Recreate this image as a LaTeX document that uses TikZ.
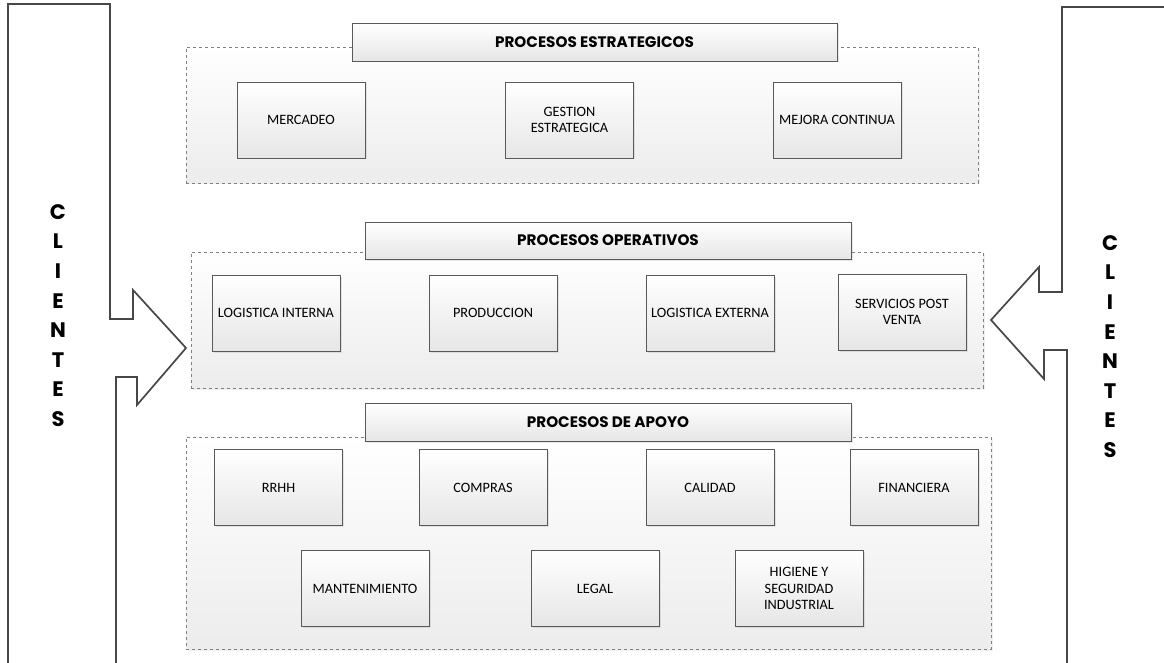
\documentclass[tikz,border=0pt]{standalone}
\usepackage{fontspec}
\setmainfont{Carlito}
\newfontfamily\PRcabecera{Poppins}
\usetikzlibrary{shadows}
\definecolor{PRborde}{HTML}{595959}
\definecolor{PRfondo}{HTML}{E6E6E6}
\colorlet{PRtrazo}{PRborde!80!black}

\begin{document}
\begin{tikzpicture}[x=1pt,y=-1pt,font=\fontsize{14.3}{16.5}\selectfont,
 PRcaja/.style={draw=PRborde,thick,top color=white,bottom color=PRfondo,minimum width=128pt,minimum height=76pt,
  align=center,inner sep=2pt,drop shadow={shadow xshift=1.5pt,shadow yshift=-1.5pt,opacity=.18}},
 PRgrupo/.style={draw=gray,dashed,top color=white,bottom color=PRfondo!75,inner sep=0pt,
  drop shadow={shadow xshift=1.5pt,shadow yshift=-1.5pt,opacity=.12}},
 PRtitulo/.style={PRcaja,minimum width=486pt,minimum height=38pt,font=\PRcabecera\bfseries\fontsize{15.2}{17}\selectfont},
 PRletra/.style={font=\PRcabecera\bfseries\fontsize{21}{23}\selectfont,inner sep=0pt},
 PRflecha/.style={draw=PRtrazo,line width=1.7pt,line join=miter}]
\useasboundingbox (0,0) rectangle (1164,663);
\draw[PRflecha] (8,663)--(8,4)--(110,4)--(110,319)--(133,319)--(133,290)--(186,348)--(137,405)--(137,377)--(116,377)--(116,663);
\draw[PRflecha] (1164,7)--(1062,7)--(1062,292)--(1039,292)--(1039,267)--(991,320)--(1044,379)--(1044,350)--(1067,350)--(1067,663);
\foreach \l [count=\i] in {C,L,I,E,N,T,E,S}{
 \node[PRletra] (clizq\i) at (58,{212+29.6*(\i-1)}) {\l};
 \node[PRletra] (clder\i) at (1110,{243+29.6*(\i-1)}) {\l};}
\node[PRgrupo,minimum width=792pt,minimum height=136pt] (estrategicos) at (582,115) {};
\node[PRgrupo,minimum width=792pt,minimum height=136pt] (operativos) at (587,320) {};
\node[PRgrupo,minimum width=805pt,minimum height=212pt] (apoyo) at (588.5,543) {};
\node[PRtitulo,minimum width=485pt] (testrategicos) at (594.5,42) {PROCESOS ESTRATEGICOS};
\node[PRtitulo,minimum height=37pt] (toperativos) at (608,240.5) {PROCESOS OPERATIVOS};
\node[PRtitulo] (tapoyo) at (608,422) {PROCESOS DE APOYO};
\foreach \n/\x/\y/\t in {mercadeo/301/120/MERCADEO,gestion/569.5/120/{GESTION\\ESTRATEGICA},mejora/837/120/MEJORA CONTINUA,
 loginterna/276/313/LOGISTICA INTERNA,produccion/493/313/PRODUCCION,logexterna/710/313/LOGISTICA EXTERNA,postventa/902/312/{SERVICIOS POST\\VENTA},
 rrhh/278.5/487.5/RRHH,compras/483/487.5/COMPRAS,calidad/710/487.5/CALIDAD,financiera/914/487.5/FINANCIERA,
 mantenimiento/365/588.5/MANTENIMIENTO,legal/595/588.5/LEGAL,higiene/799/588.5/{HIGIENE Y\\SEGURIDAD\\INDUSTRIAL}}
 {\node[PRcaja] (\n) at (\x,\y) {\t};}
\end{tikzpicture}
\end{document}
